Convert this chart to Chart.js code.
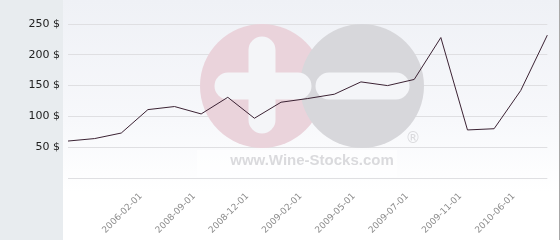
<!DOCTYPE html>
<html lang="en">
<head>
    <meta charset="UTF-8">
    <title>Wine price history</title>
    <style>
        body {
            margin: 0;
            padding: 0;
            background-color: #e8ecef;
        }

        .chart-box {
            position: relative;
            width: 560px;
            height: 240px;
            background:
                linear-gradient(to right, #e8ecef 0, #e8ecef 63px, transparent 63px),
                linear-gradient(to bottom, #eff1f6 0%, #f7f8fb 50%, #ffffff 80%, #ffffff 100%);
        }

        .chart-box::after {
            content: "";
            position: absolute;
            top: 0;
            right: 0;
            width: 1px;
            height: 240px;
            background-color: #a8a8a8;
        }
    </style>
</head>
<body>
    <div class="chart-box">
        <canvas id="priceChart" width="560" height="240"></canvas>
    </div>

    <script src="https://cdn.jsdelivr.net/npm/chart.js"></script>
    <script>
        // Dates on the x axis (only every other one is printed in the original)
        const dates = ['', '', '', '2006-02-01', '', '2008-09-01', '', '2008-12-01', '', '2009-02-01',
                       '', '2009-05-01', '', '2009-07-01', '', '2009-11-01', '', '2010-06-01', ''];
        const prices = [60, 64, 73, 111, 116, 104, 131, 97, 123, 129,
                        136, 156, 150, 160, 228, 78, 80, 142, 232];
        const yTicks = [0, 50, 100, 150, 200, 250];

        // Wine-Stocks watermark drawn behind the line
        const watermark = {
            id: 'watermark',
            beforeDatasetsDraw(chart) {
                const ctx = chart.ctx;
                ctx.save();

                // pink circle with a cross
                ctx.fillStyle = '#ead3db';
                ctx.beginPath();
                ctx.arc(262, 86, 62, 0, Math.PI * 2);
                ctx.fill();

                // grey circle with a minus
                ctx.fillStyle = '#d7d7db';
                ctx.beginPath();
                ctx.arc(362, 86, 62, 0, Math.PI * 2);
                ctx.fill();

                ctx.strokeStyle = '#f4f5f8';
                ctx.lineCap = 'round';
                ctx.lineWidth = 27;
                ctx.beginPath();
                ctx.moveTo(262, 50);
                ctx.lineTo(262, 120);
                ctx.moveTo(228, 86);
                ctx.lineTo(298, 86);
                ctx.moveTo(329, 86);
                ctx.lineTo(396, 86);
                ctx.stroke();

                // lighter plate behind the web address
                ctx.fillStyle = 'rgba(255, 255, 255, 0.55)';
                ctx.fillRect(197, 150, 200, 27);

                ctx.fillStyle = '#dadadd';
                ctx.font = 'bold 15px "Liberation Sans", Arial, sans-serif';
                ctx.textAlign = 'center';
                ctx.textBaseline = 'middle';
                ctx.fillText('www.Wine-Stocks.com', 312, 161);

                ctx.font = '15px "DejaVu Sans", sans-serif';
                ctx.fillText('®', 413, 139);

                ctx.restore();
            }
        };

        const ctx = document.getElementById('priceChart').getContext('2d');
        const priceChart = new Chart(ctx, {
            type: 'line',
            data: {
                labels: dates,
                datasets: [{
                    data: prices,
                    borderColor: '#3b2233',
                    borderWidth: 1,
                    pointRadius: 0,
                    tension: 0,
                    fill: false
                }]
            },
            options: {
                responsive: false,
                animation: false,
                layout: {
                    padding: { top: 24, right: 5, bottom: 0, left: 0 }
                },
                plugins: {
                    legend: { display: false },
                    tooltip: { enabled: false }
                },
                scales: {
                    x: {
                        offset: false,
                        grid: { display: false },
                        border: { display: false },
                        afterFit(scale) { scale.height = 62; },
                        ticks: {
                            autoSkip: false,
                            minRotation: 45,
                            maxRotation: 45,
                            padding: 5,
                            labelOffset: -7,
                            color: '#8c8c8c',
                            font: { family: '"DejaVu Sans", sans-serif', size: 9 }
                        }
                    },
                    y: {
                        min: 0,
                        max: 250,
                        afterFit(scale) { scale.width = 68; },
                        afterBuildTicks(scale) {
                            scale.ticks = yTicks.map(v => ({ value: v }));
                        },
                        grid: {
                            color: '#dfdfe2',
                            drawTicks: false
                        },
                        border: { display: false },
                        ticks: {
                            padding: 8,
                            color: '#222222',
                            font: { family: '"DejaVu Sans", sans-serif', size: 11 },
                            callback: (v) => v === 0 ? '' : v + ' $'
                        }
                    }
                }
            },
            plugins: [watermark]
        });
    </script>
</body>
</html>
